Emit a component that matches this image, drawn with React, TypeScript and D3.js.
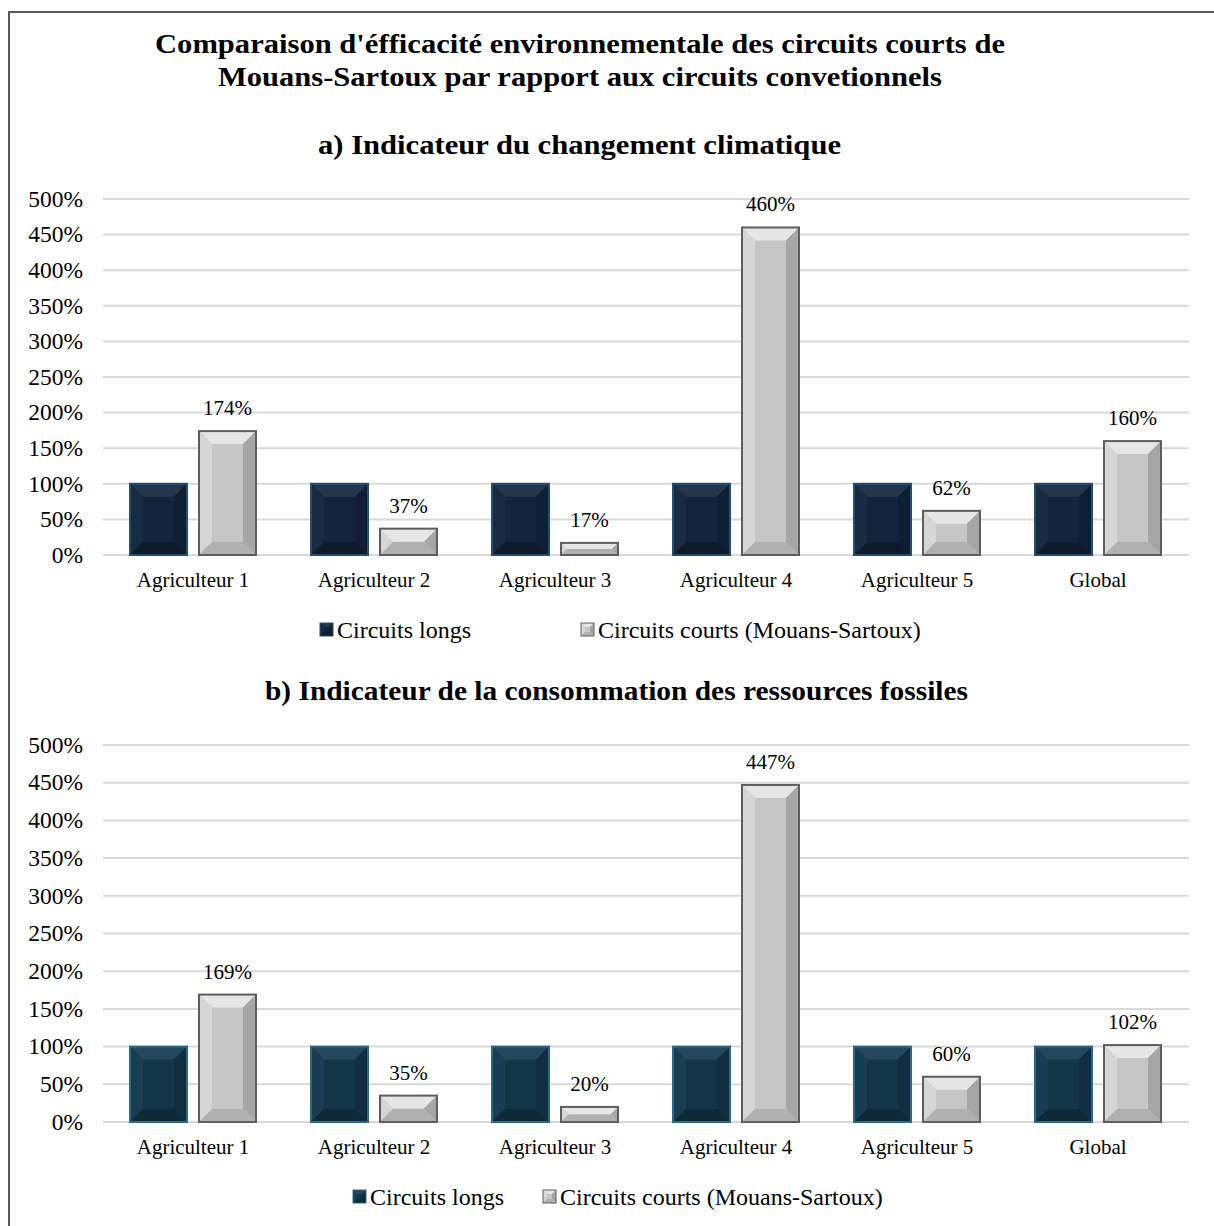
import React from 'react'
import * as d3 from 'd3'

// categories and values
const categories = ['Agriculteur 1', 'Agriculteur 2', 'Agriculteur 3', 'Agriculteur 4', 'Agriculteur 5', 'Global']
const seriesNames = ['Circuits longs', 'Circuits courts (Mouans-Sartoux)']
const climatLongs = [100, 100, 100, 100, 100, 100]
const climatCourts = [174, 37, 17, 460, 62, 160]
const fossilesLongs = [100, 100, 100, 100, 100, 100]
const fossilesCourts = [169, 35, 20, 447, 60, 102]
const yTicks = [0, 50, 100, 150, 200, 250, 300, 350, 400, 450, 500]

const W = 1214
const H = 1226
const FONT = '"Liberation Serif", "Times New Roman", serif'

const x = d3.scaleBand<string>()
  .domain(categories)
  .range([102.5, 1188.5])

const inner = d3.scaleBand<number>()
  .domain([0, 1])
  .range([27.5, 153.5])
  .paddingInner(12 / 69)

// one face set per palette: base, top, left, right, bottom, outline
const darkTop = { base: '#12243a', top: '#23364d', left: '#182b42', right: '#0f1f33', bottom: '#0d1b2c', stroke: '#23506e' }
const darkBottom = { base: '#133548', top: '#25475c', left: '#193d52', right: '#102e40', bottom: '#0e2938', stroke: '#2d6a88' }
const light = { base: '#c6c6c6', top: '#e6e6e6', left: '#d6d6d6', right: '#a6a6a6', bottom: '#b0b0b0', stroke: '#5e5e5e' }

type Pal = typeof light

function Bevel({ x0, y0, w, h, pal, b0 = 13, sw = 2 }: { x0: number; y0: number; w: number; h: number; pal: Pal; b0?: number; sw?: number }) {
  const b = Math.min(b0, w / 2, h / 2)
  const p = (pts: number[][]) => pts.map(q => q.join(',')).join(' ')
  return (
    <g>
      <rect x={x0} y={y0} width={w} height={h} fill={pal.base} />
      <polygon points={p([[x0, y0], [x0 + w, y0], [x0 + w - b, y0 + b], [x0 + b, y0 + b]])} fill={pal.top} />
      <polygon points={p([[x0, y0], [x0 + b, y0 + b], [x0 + b, y0 + h - b], [x0, y0 + h]])} fill={pal.left} />
      <polygon points={p([[x0 + w, y0], [x0 + w, y0 + h], [x0 + w - b, y0 + h - b], [x0 + w - b, y0 + b]])} fill={pal.right} />
      <polygon points={p([[x0, y0 + h], [x0 + w, y0 + h], [x0 + w - b, y0 + h - b], [x0 + b, y0 + h - b]])} fill={pal.bottom} />
      <rect x={x0} y={y0} width={w} height={h} fill="none" stroke={pal.stroke} strokeWidth={sw} />
    </g>
  )
}

function Chart({ top, bottom, longs, courts, dark, title, titleX, titleLen, legendX }: {
  top: number; bottom: number; longs: number[]; courts: number[]; dark: Pal; title: string; titleX: number; titleLen: number; legendX: number[]
}) {
  const y = d3.scaleLinear().domain([0, 500]).range([bottom, top])
  const series = [longs, courts]
  const pals = [dark, light]
  return (
    <g>
      <text x={titleX} y={top - 45} textAnchor="middle" fontFamily={FONT} fontWeight="bold" fontSize={28}
        textLength={titleLen} lengthAdjust="spacingAndGlyphs">{title}</text>
      {yTicks.map(t => (
        <g key={t}>
          <line x1={103} x2={1189} y1={y(t)} y2={y(t)} stroke="#d9d9d9" strokeWidth={2} />
          <text x={83} y={y(t)} dy="0.33em" textAnchor="end" fontFamily={FONT} fontSize={23.5}>{t}%</text>
        </g>
      ))}
      {categories.map((c, i) => (
        <g key={c}>
          {series.map((s, k) => {
            const bx = x(c)! + inner(k)!
            const by = y(s[i])
            return <Bevel key={k} x0={bx} y0={by} w={inner.bandwidth()} h={bottom - by} pal={pals[k]} />
          })}
          <text x={x(c)! + inner(1)! + inner.bandwidth() / 2} y={y(courts[i]) - 16} textAnchor="middle" fontFamily={FONT} fontSize={21}>{courts[i]}%</text>
          <text x={x(c)! + x.bandwidth() / 2} y={bottom + 32} textAnchor="middle" fontFamily={FONT} fontSize={21}>{c}</text>
        </g>
      ))}
      {seriesNames.map((n, k) => (
        <g key={n}>
          <Bevel x0={legendX[k]} y0={bottom + 68} w={13} h={13} pal={pals[k]} b0={4} sw={1} />
          <text x={legendX[k] + 17} y={bottom + 83} fontFamily={FONT} fontSize={24}>{n}</text>
        </g>
      ))}
    </g>
  )
}

export default function App() {
  return (
    <svg width={W} height={H} style={{ position: 'absolute', left: 0, top: 0, background: '#fff' }}>
      <rect x={0} y={0} width={W} height={H} fill="#fff" />
      <path d={`M9,${H} V12 H${W}`} fill="none" stroke="#5a5a5a" strokeWidth={2} />
      <text x={580} y={53} textAnchor="middle" fontFamily={FONT} fontWeight="bold" fontSize={28}
        textLength={850} lengthAdjust="spacingAndGlyphs">Comparaison d'éfficacité environnementale des circuits courts de</text>
      <text x={580} y={86} textAnchor="middle" fontFamily={FONT} fontWeight="bold" fontSize={28}
        textLength={724} lengthAdjust="spacingAndGlyphs">Mouans-Sartoux par rapport aux circuits convetionnels</text>
      <Chart top={199} bottom={555} longs={climatLongs} courts={climatCourts} dark={darkTop}
        title="a) Indicateur du changement climatique" titleX={579.5} titleLen={523} legendX={[320, 581]} />
      <Chart top={745} bottom={1122} longs={fossilesLongs} courts={fossilesCourts} dark={darkBottom}
        title="b) Indicateur de la consommation des ressources fossiles" titleX={616.5} titleLen={703} legendX={[353, 543]} />
    </svg>
  )
}
